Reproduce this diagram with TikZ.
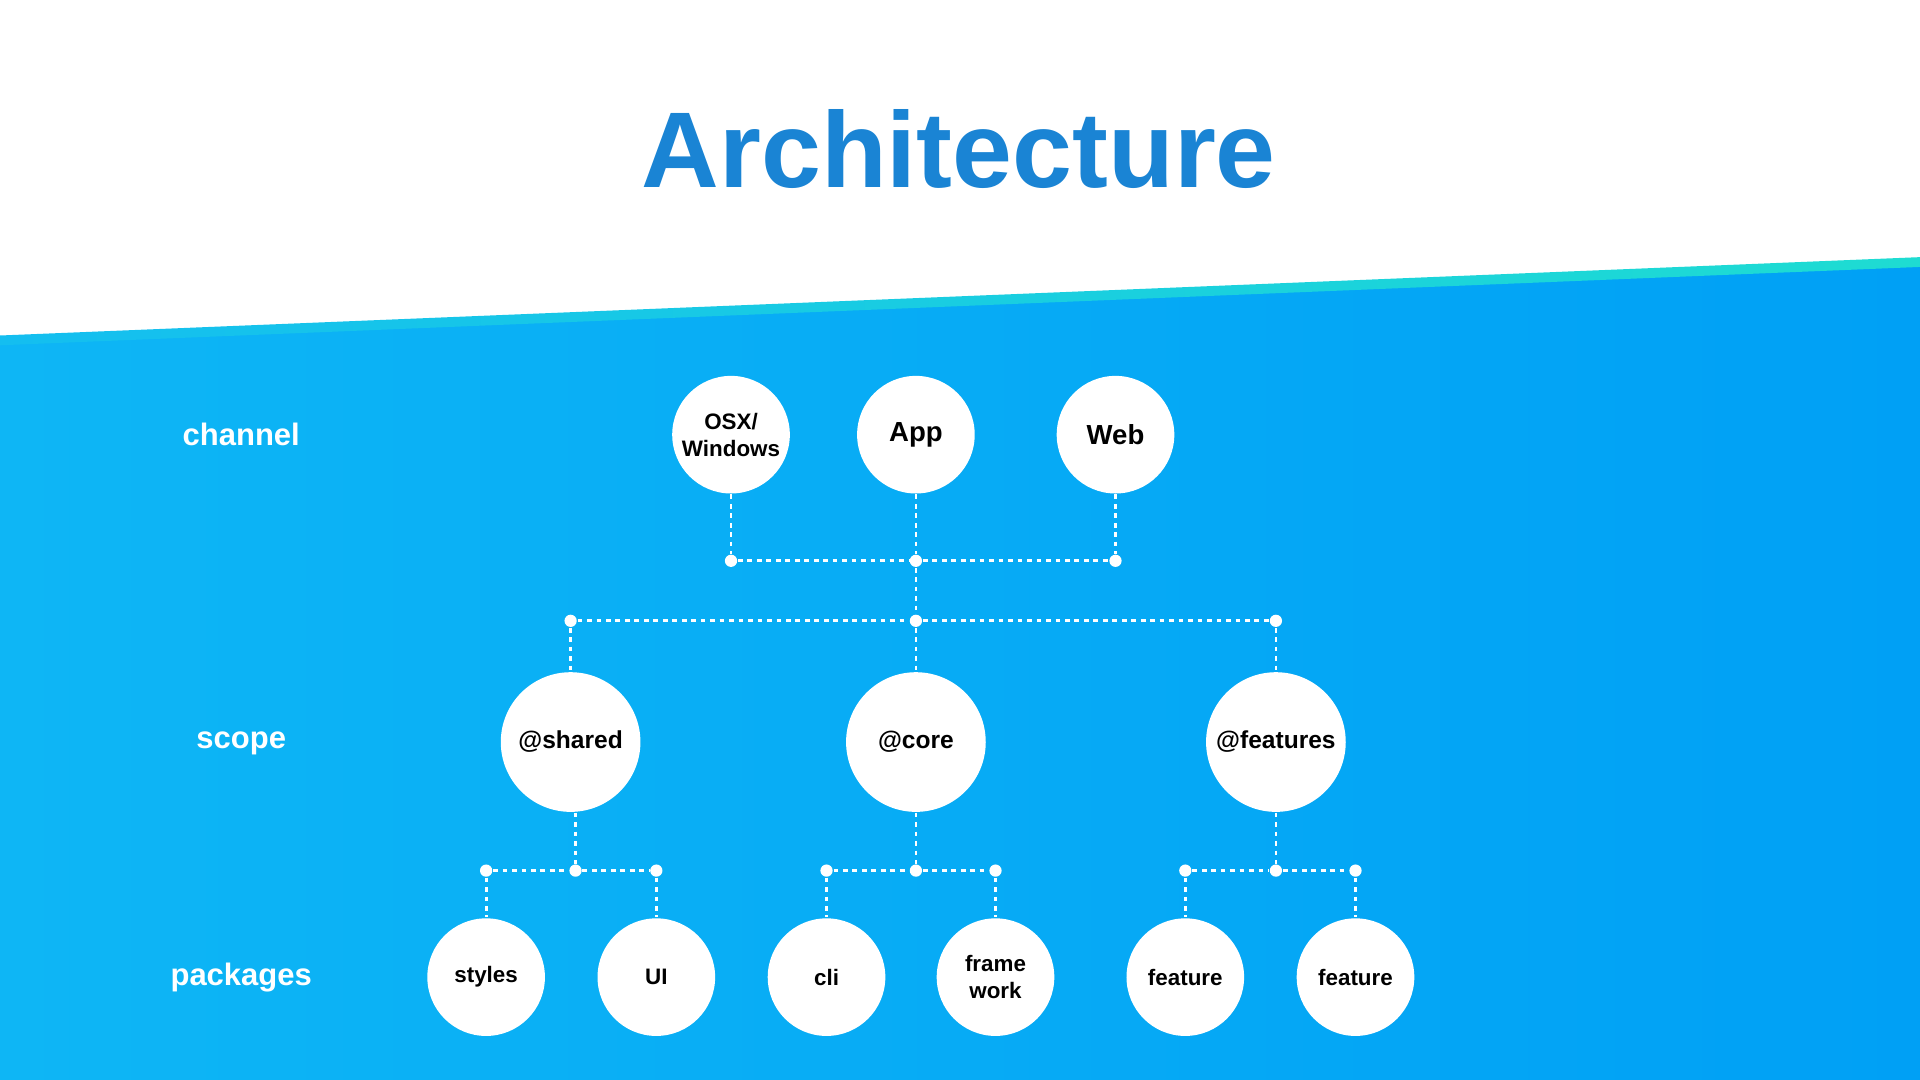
\documentclass[tikz,border=0pt]{standalone}
\usepackage{fontspec}
\setmainfont{Liberation Sans}
\begin{document}
\begin{tikzpicture}[x=0.01cm,y=-0.01cm,
  circ/.style={circle,fill=white,draw=none,inner sep=0pt,align=center,font=\bfseries\fontsize{5.2pt}{6.2pt}\selectfont},
  small/.style={circ,minimum size=0.96cm},
  big/.style={circ,minimum size=1.14cm},
  dot/.style={circle,fill=white,inner sep=0pt,minimum size=0.1cm},
  lbl/.style={text=white,font=\bfseries\fontsize{7.2pt}{8pt}\selectfont},
  dl/.style={white,line width=0.65pt,dash pattern=on 1.1pt off 1.1pt}]
\useasboundingbox (0,0) rectangle (1568,882);
\fill[white] (0,0) rectangle (1568,882);
\shade[left color={rgb,255:red,14;green,182;blue,245},right color={rgb,255:red,0;green,160;blue,245}]
  (0,280) -- (1568,214) -- (1568,882) -- (0,882) -- cycle;
\shade[left color={rgb,255:red,20;green,190;blue,240},right color={rgb,255:red,30;green,220;blue,210}]
  (0,274) -- (1568,210) -- (1568,218) -- (0,282) -- cycle;
\node[text={rgb,255:red,26;green,132;blue,212},font=\bfseries\fontsize{25pt}{28pt}\selectfont] (title) at (783,122) {Architecture};
\node[lbl] (lch) at (197,355) {channel};
\node[lbl] (lsc) at (197,607) {scope};
\node[lbl] (lpk) at (197,798) {packages};
% channel
\node[small] (osx) at (597,355) {OSX/\\Windows};
\node[small,font=\bfseries\fontsize{6.4pt}{7pt}\selectfont] (app) at (748,355) {App};
\node[small,font=\bfseries\fontsize{6.4pt}{7pt}\selectfont] (web) at (911,355) {Web};
% scope
\node[big,font=\bfseries\fontsize{5.7pt}{7pt}\selectfont] (shared) at (466,606) {@shared};
\node[big,font=\bfseries\fontsize{5.7pt}{7pt}\selectfont] (core) at (748,606) {@core};
\node[big,font=\bfseries\fontsize{5.7pt}{7pt}\selectfont] (feat) at (1042,606) {@features};
% packages
\node[small] (styles) at (397,798) {styles};
\node[small] (ui) at (536,798) {UI};
\node[small] (cli) at (675,798) {cli};
\node[small] (fw) at (813,798) {frame\\work};
\node[small] (f1) at (968,798) {feature};
\node[small] (f2) at (1107,798) {feature};
% dots
\node[dot] (d1) at (597,458) {};
\node[dot] (d2) at (748,458) {};
\node[dot] (d3) at (911,458) {};
\node[dot] (e1) at (466,507) {};
\node[dot] (e2) at (748,507) {};
\node[dot] (e3) at (1042,507) {};
\node[dot] (s1) at (397,711) {};
\node[dot] (s2) at (470,711) {};
\node[dot] (s3) at (536,711) {};
\node[dot] (c1) at (675,711) {};
\node[dot] (c2) at (748,711) {};
\node[dot] (c3) at (813,711) {};
\node[dot] (g1) at (968,711) {};
\node[dot] (g2) at (1042,711) {};
\node[dot] (g3) at (1107,711) {};
% lines
\draw[dl] (osx) -- (d1); \draw[dl] (app) -- (d2); \draw[dl] (web) -- (d3);
\draw[dl] (d1) -- (d2) -- (d3);
\draw[dl] (d2) -- (e2);
\draw[dl] (e1) -- (e2) -- (e3);
\draw[dl] (e1) -- (shared); \draw[dl] (e2) -- (core); \draw[dl] (e3) -- (feat);
\draw[dl] (shared.south -| s2) -- (s2); \draw[dl] (core) -- (c2); \draw[dl] (feat) -- (g2);
\draw[dl] (s1) -- (s2) -- (s3); \draw[dl] (c1) -- (c2) -- (c3); \draw[dl] (g1) -- (g2) -- (g3);
\draw[dl] (s1) -- (styles); \draw[dl] (s3) -- (ui);
\draw[dl] (c1) -- (cli); \draw[dl] (c3) -- (fw);
\draw[dl] (g1) -- (f1); \draw[dl] (g3) -- (f2);
\end{tikzpicture}
\end{document}
